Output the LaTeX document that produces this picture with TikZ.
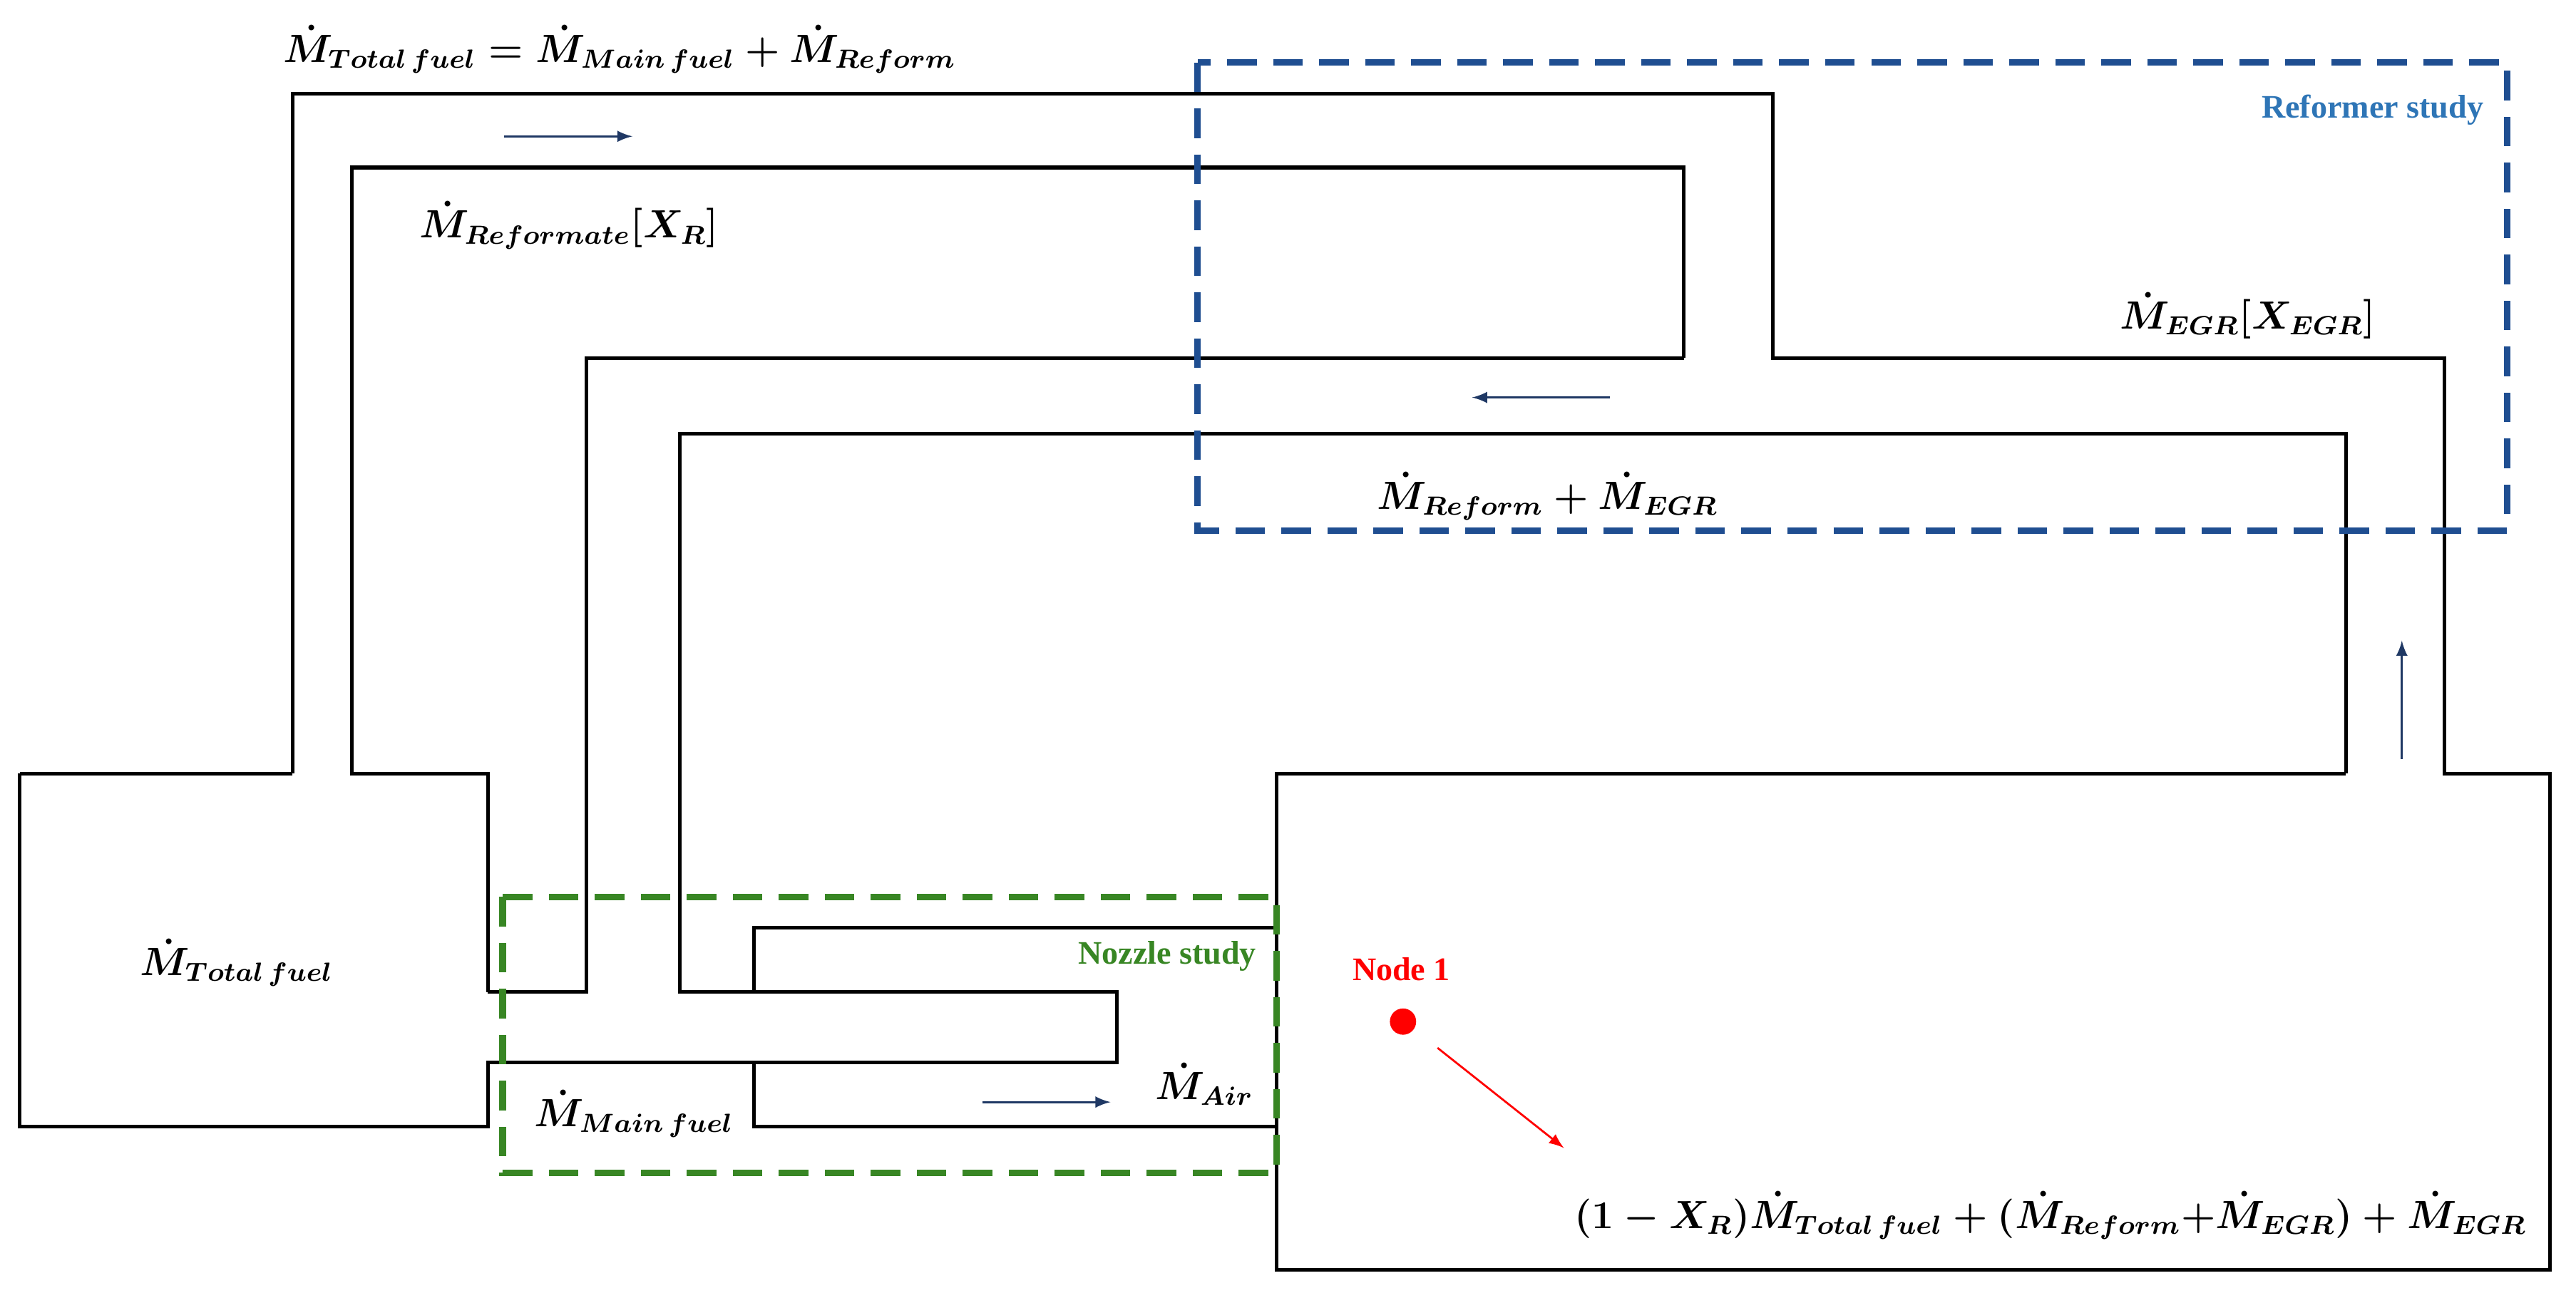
\documentclass[tikz,border=0pt]{standalone}
\usepackage{amsmath,bm}
\usepackage{fontspec}
\setmainfont{Liberation Serif}
\begin{document}
\begin{tikzpicture}[x=0.5pt,y=-0.5pt,
  wall/.style={line width=1.1pt,black},
  flow/.style={draw={rgb,255:red,31;green,56;blue,100},line width=0.6pt,-{latex}},
  lab/.style={font=\large\boldmath,inner sep=0pt},
  blu/.style={draw={rgb,255:red,31;green,78;blue,145},line width=2pt,dash pattern=on 9pt off 5pt},
  grn/.style={draw={rgb,255:red,56;green,134;blue,36},line width=2pt,dash pattern=on 9pt off 5pt}]
\useasboundingbox (0,0) rectangle (1568,787);
% left box and outer pipe
\draw[wall] (297,604) -- (297,471) -- (214,471) -- (214,102) -- (1025,102) -- (1025,218);
\draw[wall] (12,471) -- (12,686) -- (297,686) -- (297,647) -- (680,647) -- (680,604) -- (414,604) -- (414,264) -- (1428,264) -- (1428,471);
\draw[wall] (178,471) -- (12,471);
\draw[wall] (178,471) -- (178,57) -- (1079,57) -- (1079,218) -- (1488,218) -- (1488,471) -- (1552,471) -- (1552,773) -- (777,773) -- (777,471) -- (1428,471);
\draw[wall] (1025,218) -- (357,218) -- (357,604) -- (297,604);
\draw[wall] (459,604) -- (459,565) -- (777,565);
\draw[wall] (459,647) -- (459,686) -- (777,686);
% dashed regions
\draw[blu] (729,38) rectangle (1526,323);
\draw[grn] (306,546) rectangle (777,714);
% flow arrows
\coordinate (a1s) at (307,83); \coordinate (a1e) at (385,83);
\coordinate (a2s) at (980,242); \coordinate (a2e) at (896,242);
\coordinate (a3s) at (1462,462); \coordinate (a3e) at (1462,390);
\coordinate (a4s) at (598,671); \coordinate (a4e) at (676,671);
\draw[flow] (a1s) -- (a1e);
\draw[flow] (a2s) -- (a2e);
\draw[flow] (a3s) -- (a3e);
\draw[flow] (a4s) -- (a4e);
\fill[red] (854,622) circle (4pt) node (n1dot) {};
\coordinate (r1) at (875,638); \coordinate (r2) at (952,699);
\draw[red,line width=0.6pt,-{latex}] (r1) -- (r2);
% labels
\node[lab,anchor=west] (t1) at (172,30) {$\dot{M}_{Total\,fuel}=\dot{M}_{Main\,fuel}+\dot{M}_{Reform}$};
\node[lab,anchor=west] (t2) at (255,137) {$\dot{M}_{Reformate}[X_R]$};
\node[lab,anchor=west] (t3) at (1290,192) {$\dot{M}_{EGR}[X_{EGR}]$};
\node[lab,anchor=west] (t4) at (838,302) {$\dot{M}_{Reform}+\dot{M}_{EGR}$};
\node[lab,anchor=west] (t5) at (85,586) {$\dot{M}_{Total\,fuel}$};
\node[lab,anchor=west] (t6) at (325,678) {$\dot{M}_{Main\,fuel}$};
\node[lab,anchor=west] (t7) at (703,660) {$\dot{M}_{Air}$};
\node[lab,anchor=west] (t8) at (958,740) {$(1-X_R)\dot{M}_{Total\,fuel}+(\dot{M}_{Reform}{+}\dot{M}_{EGR})+\dot{M}_{EGR}$};
\node[anchor=east,font=\bfseries\normalsize,text={rgb,255:red,46;green,117;blue,182},inner sep=0pt] (rs) at (1512,67) {Reformer study};
\node[anchor=east,font=\bfseries\normalsize,text={rgb,255:red,56;green,134;blue,36},inner sep=0pt] (ns) at (765,582) {Nozzle study};
\node[font=\bfseries\normalsize,text=red,inner sep=0pt] (n1) at (853,590) {Node 1};
\end{tikzpicture}
\end{document}
